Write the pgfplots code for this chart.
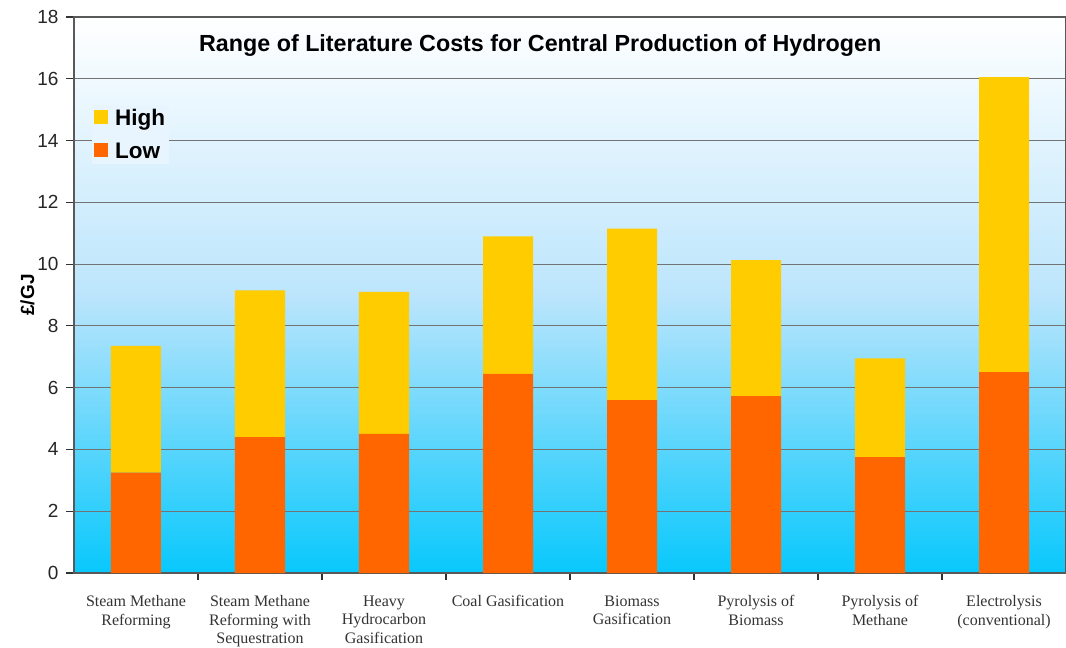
\documentclass[border=0pt]{standalone}
\usepackage{pgfplots}
\pgfplotsset{compat=1.18}
\usepackage{fontspec}
\setmainfont{Liberation Sans}
\newfontfamily\serifx{Liberation Serif}
\definecolor{lowc}{RGB}{255,102,0}
\definecolor{highc}{RGB}{255,204,0}
\definecolor{bgtop}{RGB}{255,255,255}
\definecolor{bgmid}{RGB}{188,229,252}
\definecolor{bgbot}{RGB}{8,200,252}
\definecolor{legbg}{RGB}{232,245,254}
\pgfplotstableread{
x low diff
0 3.25 4.10
1 4.40 4.75
2 4.50 4.60
3 6.45 4.45
4 5.60 5.55
5 5.73 4.40
6 3.75 3.20
7 6.50 9.55
}\datatab
\begin{document}
\begin{tikzpicture}
\useasboundingbox (-74pt,-75pt) rectangle (992pt,573pt);
\begin{axis}[
  scale only axis,
  width=992pt, height=556pt,
  ybar stacked,
  bar width=50pt,
  xmin=-0.5, xmax=7.5,
  ymin=0, ymax=18,
  ytick={0,2,...,18},
  xtick={0,...,7},
  xticklabels={{Steam Methane\\Reforming},{Steam Methane\\Reforming with\\Sequestration},{Heavy\\Hydrocarbon\\Gasification},{Coal Gasification},{Biomass\\Gasification},{Pyrolysis of\\Biomass},{Pyrolysis of\\Methane},{Electrolysis\\(conventional)}},
  x tick label style={font=\serifx\fontsize{16}{18.5}\selectfont, align=center, anchor=north, yshift=-11pt, text=black!80},
  y tick label style={font=\fontsize{19}{21}\selectfont, text=black!85, xshift=-4pt},
  /pgf/number format/assume math mode=true,
  major x tick style={draw=none},
  minor xtick={0.5,1.5,...,6.5},
  minor x tick style={draw=black!80, line width=1.2pt},
  minor tick length=7pt,
  major tick length=8pt,
  tick align=outside,
  ytick pos=left, xtick pos=bottom,
  ymajorgrids,
  major grid style={draw=black!55, line width=1pt},
  axis line style={draw=black!65, line width=1.6pt},
  y tick style={draw=black!80, line width=1.2pt},
  axis background/.style={top color=bgtop, bottom color=bgbot, middle color=bgmid},
  ylabel={\textbf{£/GJ}},
  ylabel style={font=\fontsize{19}{21}\selectfont, yshift=-4pt},
  legend style={at={(rel axis cs:0.018,0.842)}, anchor=north west, draw=none, fill=legbg,
    font=\bfseries\fontsize{22.5}{26}\selectfont, row sep=12pt, inner sep=2pt},
  legend cell align=left,
  reverse legend,
  legend image code/.code={\fill[#1] (0pt,-6pt) rectangle (14pt,8pt); \path (19pt,0pt);},
]
\addplot[fill=lowc, draw=none] table[x=x, y=low] {\datatab};
\addplot[fill=highc, draw=none] table[x=x, y=diff] {\datatab};
\legend{Low, High}
\node[font=\bfseries\fontsize{23.3}{26}\selectfont] at (rel axis cs:0.47,0.948) {Range of Literature Costs for Central Production of Hydrogen};
\end{axis}
\end{tikzpicture}
\end{document}
